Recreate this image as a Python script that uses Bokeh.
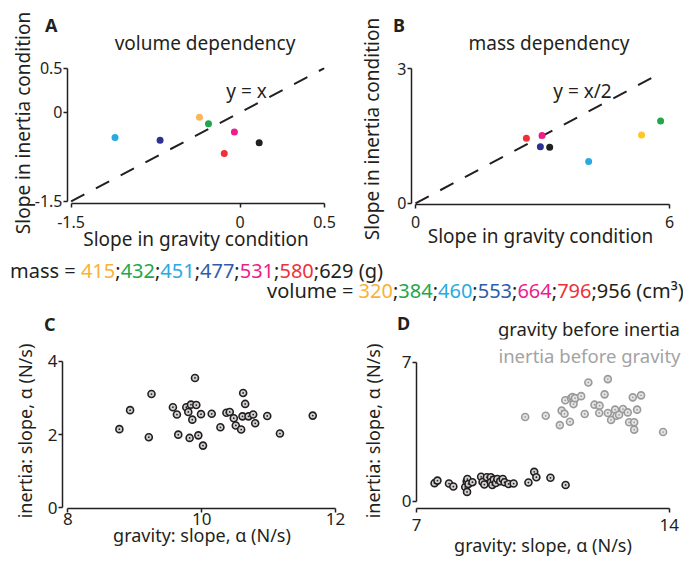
from bokeh.plotting import figure
from bokeh.models import Range1d, FixedTicker, Label, Div
from bokeh.layouts import column, row
from bokeh.embed import file_html
from bokeh.resources import INLINE

FONT = "Noto Sans"
INK = "#231F20"
GREY_TXT = "#A3A3A3"

# ---------------- data ----------------
masses = [415, 432, 451, 477, 531, 580, 629]
volumes = [320, 384, 460, 553, 664, 796, 956]
text_colors = ["#F9B233", "#22A84A", "#29ABE2", "#2F5CA8", "#EC1E8C", "#ED3237", INK]

dotA_colors = ["#FBB55A", "#22A84A", "#29ABE2", "#2E3192", "#EC1E8C", "#ED3237", INK]
dotB_colors = ["#FFC629", "#22A84A", "#29ABE2", "#2E3192", "#EC1E8C", "#ED3237", INK]

volA_x = [-0.36, -0.28, -1.11, -0.71, -0.05, -0.14, 0.17]
volA_y = [-0.08, -0.19, -0.42, -0.47, -0.33, -0.69, -0.51]

massB_x = [5.34, 5.79, 4.09, 2.95, 2.99, 2.62, 3.17]
massB_y = [1.52, 1.83, 0.93, 1.26, 1.51, 1.45, 1.25]

lineA_x = [-1.5, 0.75]
lineB_x = [0.0, 5.65]

A_ticks = [-1.5, 0, 0.75]
A_tick_labels = ["-1.5", "0", "0.5"]
B_xticks = [0, 6]
B_yticks = [0, 3]

C_x = [8.77, 8.93, 9.21, 9.25, 9.57, 9.63, 9.65, 9.77, 9.80, 9.84, 9.82, 9.86,
       9.90, 9.92, 9.95, 9.99, 10.02, 10.15, 10.28, 10.37, 10.42, 10.48, 10.51,
       10.59, 10.62, 10.61, 10.65, 10.70, 10.77, 10.80, 10.98, 11.17, 11.66]
C_y = [2.15, 2.67, 1.93, 3.11, 2.75, 2.55, 2.00, 2.75, 2.62, 2.82, 1.91, 2.41,
       3.55, 2.81, 1.98, 2.56, 1.70, 2.57, 2.20, 2.60, 2.62, 2.45, 2.25,
       2.14, 3.14, 2.50, 2.84, 2.50, 2.55, 2.31, 2.51, 2.03, 2.52]

D_ig_x = [10.01, 10.58, 10.97, 11.02, 11.10, 11.12, 11.25, 11.28, 11.32, 11.37,
          11.35, 11.39, 11.56, 11.66, 11.76, 11.93, 12.07, 12.06, 12.21, 12.30,
          12.30, 12.39, 12.50, 12.54, 12.61, 12.72, 12.85, 12.89, 13.03, 12.99,
          13.03, 13.11, 13.22, 13.83]
D_ig_y = [4.25, 4.31, 3.84, 4.57, 4.41, 5.09, 4.01, 5.19, 5.25, 5.12,
          4.90, 5.20, 5.30, 4.40, 5.99, 4.87, 4.82, 4.45, 5.39, 6.16,
          4.45, 4.10, 4.62, 4.31, 4.36, 4.65, 4.48, 3.98, 3.98, 5.24,
          3.61, 4.62, 5.34, 3.49]

D_gi_x = [7.50, 7.58, 7.90, 8.02, 8.35, 8.39, 8.40, 8.41, 8.44, 8.55, 8.79, 8.83,
          8.88, 8.95, 9.06, 9.06, 9.10, 9.14, 9.20, 9.24, 9.32, 9.39, 9.44, 9.55,
          9.69, 10.10, 10.26, 10.32, 10.71, 11.13]
D_gi_y = [0.91, 1.04, 0.89, 0.74, 0.72, 1.01, 0.47, 1.12, 0.87, 0.96, 1.23, 0.97,
          0.84, 1.21, 1.21, 0.96, 0.82, 1.09, 0.92, 1.12, 1.01, 1.12, 0.96, 0.87,
          0.89, 0.94, 1.48, 1.21, 1.18, 0.82]

title_A = "volume dependency"
title_B = "mass dependency"
xlab_AB = "Slope in gravity condition"
ylab_AB = "Slope in inertia condition"
xlab_CD = "gravity: slope, \u03b1 (N/s)"
ylab_CD = "inertia: slope, \u03b1 (N/s)"
legend_D = ["gravity before inertia", "inertia before gravity"]


# ---------------- helpers ----------------
def make_fig(fw, fh, bl, br, bt, bb, xr, yr, tick_px, title_px,
             x_tick_so, x_title_so):
    p = figure(frame_width=fw, frame_height=fh,
               x_range=Range1d(*xr), y_range=Range1d(*yr),
               min_border_left=bl, min_border_right=br,
               min_border_top=bt, min_border_bottom=bb,
               output_backend="svg", toolbar_location=None)
    p.outline_line_color = None
    p.border_fill_color = None
    p.grid.visible = False
    for ax in (p.xaxis, p.yaxis):
        ax.axis_line_color = INK
        ax.axis_line_width = 1.5
        ax.major_tick_line_color = INK
        ax.major_tick_line_width = 1.5
        ax.major_tick_out = 4
        ax.major_tick_in = 0
        ax.minor_tick_line_color = None
        ax.major_label_text_font = FONT
        ax.major_label_text_font_size = tick_px
        ax.major_label_text_color = INK
        ax.axis_label_text_font = FONT
        ax.axis_label_text_font_style = "normal"
        ax.axis_label_text_color = INK
        ax.axis_label_text_font_size = title_px
    p.xaxis.major_label_standoff = x_tick_so
    p.xaxis.axis_label_standoff = x_title_so
    p.yaxis.major_label_standoff = 1
    return p


def put(p, fx, fy, text, size, color=INK, align="left", baseline="middle"):
    """fx, fy: offsets in pixels from the frame's top-left corner."""
    xr, yr = p.x_range, p.y_range
    x = xr.start + fx / p.frame_width * (xr.end - xr.start)
    y = yr.end - fy / p.frame_height * (yr.end - yr.start)
    p.add_layout(Label(x=x, y=y, text=text, text_font=FONT,
                       text_font_size=size, text_color=color,
                       text_align=align, text_baseline=baseline))


def span(text, left=None, right=None, center=None, top=0, size=19, bold=False,
         color=INK, lh=24, rotate=False, cy=None):
    st = ["position:absolute", f"line-height:{lh}px", f"font-size:{size}px",
          "white-space:nowrap", f"color:{color}"]
    if bold:
        st.append("font-weight:bold")
    if rotate:
        st += [f"left:{center}px", f"top:{cy}px",
               "transform:translate(-50%,-50%) rotate(-90deg)"]
    else:
        st.append(f"top:{top}px")
        if left is not None:
            st.append(f"left:{left}px")
        if right is not None:
            st.append(f"right:{right}px")
        if center is not None:
            st.append(f"left:{center}px")
            st.append("transform:translateX(-50%)")
    return f'<span style="{";".join(st)}">{text}</span>'


def band(spans, w, h):
    html = (f'<div style="position:relative;width:{w}px;height:{h}px;overflow:visible;'
            f'font-family:\'{FONT}\';color:{INK}">' + "".join(spans) + "</div>")
    return Div(text=html, width=w, height=h, margin=(0, 0, 0, 0),
               styles={"overflow": "visible"})


# ---------------- panel A ----------------
pA = make_fig(257, 136, 37, 15, 10, 58, (-1.532, 0.75), (-1.535, 0.759),
              "16px", "19px", 8, -5)
pA.xaxis.ticker = FixedTicker(ticks=A_ticks)
pA.yaxis.ticker = FixedTicker(ticks=A_ticks)
pA.xaxis.major_label_overrides = {t: l for t, l in zip(A_ticks, A_tick_labels)}
pA.yaxis.major_label_overrides = {t: l for t, l in zip(A_ticks, A_tick_labels)}
pA.xaxis.bounds = (-1.5, 0.75)
pA.yaxis.bounds = (-1.5, 0.75)
pA.xaxis.axis_label = xlab_AB
pA.line(lineA_x, lineA_x, line_color=INK, line_width=2, line_dash="15 13")
pA.scatter(volA_x, volA_y, size=7, color=dotA_colors, line_color=None)
put(pA, 179, 23, "y = x", "19px", align="center")

# ---------------- panel B ----------------
pB = make_fig(258, 136, 22, 5, 11, 57, (-0.094, 6.0), (-0.025, 3.0),
              "16px", "19px", 7, -8)
pB.xaxis.ticker = FixedTicker(ticks=B_xticks)
pB.yaxis.ticker = FixedTicker(ticks=B_yticks)
pB.xaxis.bounds = (0, 6)
pB.yaxis.bounds = (0, 3)
pB.xaxis.axis_label = xlab_AB
pB.line(lineB_x, [v / 2 for v in lineB_x], line_color=INK, line_width=2,
        line_dash="15 13")
pB.scatter(massB_x, massB_y, size=7, color=dotB_colors, line_color=None)
put(pB, 171, 22, "y = x/2", "19px", align="center")

bandA = band([span("A", left=15, top=13, size=18, bold=True),
              span(title_A, center=175, top=31, size=19)], 309, 57)
bandB = band([span("B", left=4, top=13, size=18, bold=True),
              span(title_B, center=160, top=31, size=19)], 285, 57)
stripeA = band([span(ylab_AB, center=23, cy=123, size=19, rotate=True)], 30, 261)
stripeB = band([span(ylab_AB, center=33, cy=129, size=19, rotate=True)], 50, 261)

# ---------------- text lines ----------------
def colored(vals):
    return ";".join(f'<span style="color:{c}">{v}</span>' for v, c in zip(vals, text_colors))

text_band = band([
    span("mass = " + colored(masses) + " (g)", left=10, top=0, size=20, lh=20),
    span("volume = " + colored(volumes) + " (cm\u00b3)", left=267, top=20, size=20, lh=20),
], 674, 40)

# ---------------- panel C ----------------
pC = make_fig(273, 163, 18, 12, 0, 24, (7.92, 12.0), (-0.02, 4.4375),
              "17px", "18px", 0, 0)
pC.xaxis.ticker = FixedTicker(ticks=[8, 10, 12])
pC.yaxis.ticker = FixedTicker(ticks=[0, 2, 4])
pC.xaxis.bounds = (8, 12)
pC.yaxis.bounds = (0, 4)
pC.scatter(C_x, C_y, marker="circle_dot", size=7, line_color=INK,
           line_width=1.6, fill_color="#d0d0d0")

# ---------------- panel D ----------------
pD = make_fig(265, 169, 22, 0, 0, 30, (7.0, 14.34), (-0.368, 8.158),
              "17px", "18px", 6, 0)
pD.xaxis.ticker = FixedTicker(ticks=[7, 14])
pD.yaxis.ticker = FixedTicker(ticks=[0, 7])
pD.xaxis.bounds = (7, 14)
pD.yaxis.bounds = (0, 7)
pD.scatter(D_ig_x, D_ig_y, marker="circle_dot", size=7, line_color="#9a9a9a",
           line_width=1.6, fill_color="#e4e4e4")
pD.scatter(D_gi_x, D_gi_y, marker="circle_dot", size=7, line_color=INK,
           line_width=1.6, fill_color="#d0d0d0")
put(pD, 264, 16, legend_D[1], "18.5px", color=GREY_TXT,
    align="right", baseline="alphabetic")

bandC = band([span("C", left=0, top=11, size=18, bold=True)], 303, 44)
bandD = band([span("D", left=3, top=10, size=18, bold=True),
              span(legend_D[0], right=1, top=16, size=18.5)], 287, 38)
xtitleC = band([span(xlab_CD, center=158, top=0, size=18, lh=6)], 303, 27)
xtitleD = band([span(xlab_CD, center=149, top=0, size=18, lh=14)], 287, 21)
stripeC = band([span(ylab_CD, center=25, cy=130, size=18, rotate=True)], 44, 258)
stripeD = band([span(ylab_CD, center=26, cy=130, size=18, rotate=True)], 47, 258)

top_row = row(stripeA, column(bandA, pA, spacing=0), stripeB,
              column(bandB, pB, spacing=0), spacing=0)
bottom_row = row(stripeC, column(bandC, pC, xtitleC, spacing=0), stripeD,
                 column(bandD, pD, xtitleD, spacing=0), spacing=0)
layout = column(top_row, text_band, bottom_row, spacing=0)

open("out.html", "w").write(file_html(layout, INLINE))
